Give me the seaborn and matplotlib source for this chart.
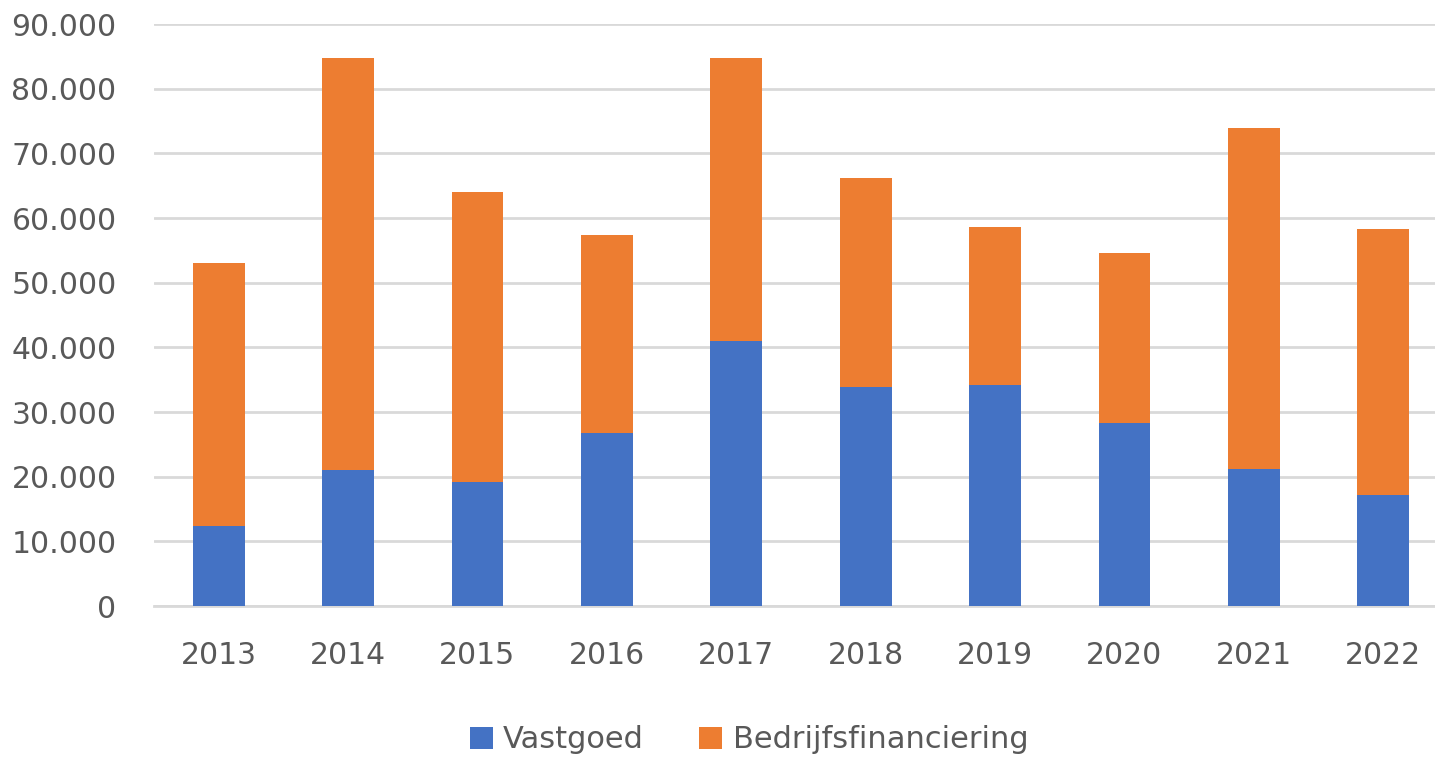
import matplotlib
matplotlib.use("Agg")
import matplotlib.pyplot as plt
from matplotlib.ticker import FuncFormatter, MultipleLocator
import seaborn as sns
import numpy as np

years = ["2013", "2014", "2015", "2016", "2017", "2018", "2019", "2020", "2021", "2022"]
vastgoed = [12400, 21000, 19200, 26700, 41000, 33800, 34200, 28300, 21200, 17200]
bedrijfsfinanciering = [40600, 63700, 44800, 30600, 43700, 32400, 24400, 26300, 52700, 41100]

blue = "#4472C4"
orange = "#ED7D31"
txt = "#595959"

sns.set_style("white")
plt.rcParams['font.family'] = ['DejaVu Sans']

fig = plt.figure(figsize=(14.35, 7.59), dpi=100)
ax = fig.add_axes([154 / 1435, 1 - 606 / 759, (1435 - 154) / 1435, (606 - 24) / 759])

totals = np.array(vastgoed) + np.array(bedrijfsfinanciering)
sns.barplot(x=years, y=totals, color=orange, width=0.40, ax=ax, saturation=1,
            label="Bedrijfsfinanciering", zorder=3, linewidth=0)
sns.barplot(x=years, y=vastgoed, color=blue, width=0.40, ax=ax, saturation=1,
            label="Vastgoed", zorder=3, linewidth=0)

ax.set_ylim(0, 90000)
ax.set_xlim(-0.5, 9.4)
ax.yaxis.set_major_locator(MultipleLocator(10000))
ax.yaxis.set_major_formatter(FuncFormatter(lambda v, p: "0" if v == 0 else f"{int(v):,}".replace(",", ".")))
ax.grid(axis="y", color="#D9D9D9", linewidth=2, zorder=0)
ax.set_axisbelow(True)
for s in ["top", "right", "left"]:
    ax.spines[s].set_visible(False)
ax.spines["bottom"].set_color("#D9D9D9")
ax.spines["bottom"].set_linewidth(2)
ax.tick_params(axis="both", length=0, labelsize=21.5, colors=txt)
ax.tick_params(axis="x", pad=25)
ax.tick_params(axis="y", pad=27)
ax.set_xlabel("")
ax.set_ylabel("")

handles, labels = ax.get_legend_handles_labels()
order = [labels.index("Vastgoed"), labels.index("Bedrijfsfinanciering")]
leg = fig.legend([handles[i] for i in order], [labels[i] for i in order],
                 loc="center", bbox_to_anchor=(749 / 1435, 1 - 740 / 759), ncol=2,
                 frameon=False, fontsize=22, handlelength=0.75, handleheight=0.75,
                 columnspacing=1.8, handletextpad=0.35)
for t in leg.get_texts():
    t.set_color(txt)
if ax.get_legend() is not None:
    ax.get_legend().remove()

fig.savefig("out.png", dpi=100)
